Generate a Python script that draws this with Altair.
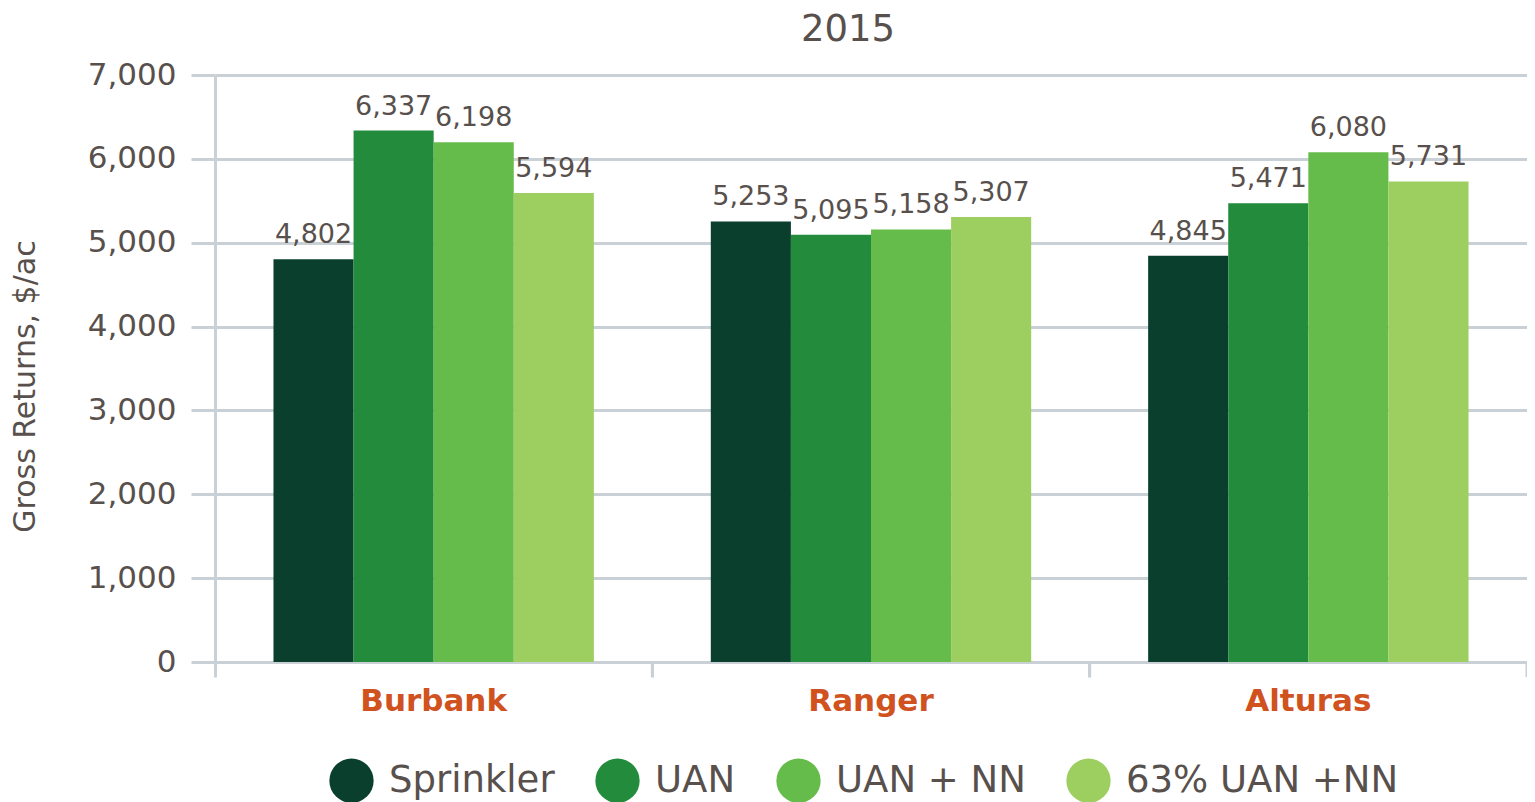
import altair as alt
import pandas as pd

varieties = ["Burbank", "Ranger", "Alturas"]
treatments = ["Sprinkler", "UAN", "UAN + NN", "63% UAN +NN"]
sprinkler = [4802, 5253, 4845]
uan = [6337, 5095, 5471]
uan_nn = [6198, 5158, 6080]
uan63_nn = [5594, 5307, 5731]
colors = ["#0a3f2e", "#238b3c", "#66bc4a", "#9dce60"]
y_ticks = [0, 1000, 2000, 3000, 4000, 5000, 6000, 7000]

rows = []
for series, vals in zip(treatments, [sprinkler, uan, uan_nn, uan63_nn]):
    for v, val in zip(varieties, vals):
        rows.append({"variety": v, "treatment": series, "value": val})
df = pd.DataFrame(rows)
cats = pd.DataFrame({"variety": varieties})

W, H = 1312, 587
FONT = "DejaVu Sans"
TEXT = "#58504c"
GRID = "#c9d0d6"
ORANGE = "#d0521e"

x_enc = alt.X(
    "variety:N", sort=varieties, title=None,
    scale=alt.Scale(paddingInner=0, paddingOuter=0),
    axis=alt.Axis(labelAngle=0, labelColor=ORANGE, labelFont=FONT, labelFontSize=31,
                  labelFontWeight="bold", labelPadding=9, tickSize=15, tickColor=GRID,
                  tickWidth=3, domainColor=GRID, domainWidth=3, bandPosition=0, grid=False),
)
xoff = alt.XOffset("treatment:N", sort=treatments,
                   scale=alt.Scale(paddingInner=0, paddingOuter=0.73))
y_enc = alt.Y(
    "value:Q", scale=alt.Scale(domain=[0, 7000], nice=False),
    axis=alt.Axis(values=y_ticks, format=",d", labelFont=FONT, labelFontSize=31,
                  labelColor=TEXT, labelPadding=15, tickSize=24, tickColor=GRID, tickWidth=3,
                  gridColor=GRID, gridWidth=3, domainColor=GRID, domainWidth=3,
                  title="Gross Returns, $/ac", titleFont=FONT, titleFontSize=30,
                  titleColor=TEXT, titleFontWeight="normal", titleAngle=270,
                  titleX=-181, titleY=311, titleAlign="center", titleBaseline="alphabetic"),
)

bars = alt.Chart(df).mark_bar().encode(
    x=x_enc, xOffset=xoff, y=y_enc,
    color=alt.Color("treatment:N", sort=treatments,
                    scale=alt.Scale(domain=treatments, range=colors),
                    legend=alt.Legend(orient="none", legendX=114, legendY=683,
                                      direction="horizontal", columns=4, title=None,
                                      symbolType="circle", symbolSize=1963,
                                      symbolStrokeWidth=0, symbolOpacity=1,
                                      labelFont=FONT, labelFontSize=37, labelColor=TEXT,
                                      labelOffset=15, columnPadding=40, padding=0,
                                      labelLimit=400)),
)

labels = alt.Chart(df).mark_text(dy=-16, baseline="alphabetic", fontSize=27,
                                 color=TEXT, font=FONT).encode(
    x=alt.X("variety:N", sort=varieties, title=None),
    xOffset=xoff,
    y=alt.Y("value:Q"),
    text=alt.Text("value:Q", format=",d"),
)

ticks = alt.Chart(cats).mark_rule(color=GRID, strokeWidth=3).encode(
    x=alt.X("variety:N", sort=varieties, title=None, bandPosition=1),
    y=alt.value(H), y2=alt.value(H + 15),
)

chart = alt.layer(bars, labels, ticks).properties(
    width=W, height=H,
    autosize=alt.AutoSizeParams(type="none"),
    padding={"left": 207, "top": 67, "right": 0, "bottom": 140},
    title=alt.TitleParams("2015", font=FONT, fontSize=37, color=TEXT, fontWeight="normal",
                          anchor="middle", dx=-23, dy=53, offset=34, baseline="alphabetic"),
).configure_view(stroke=None)

chart.save("out.html", embed_options={"renderer": "svg", "actions": False})
